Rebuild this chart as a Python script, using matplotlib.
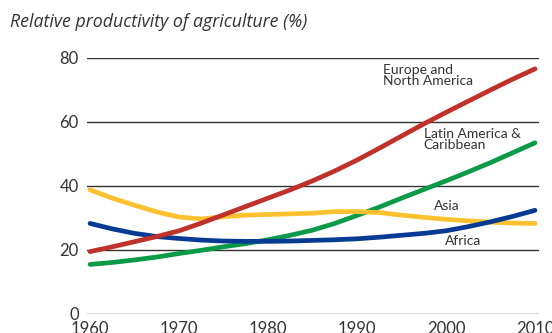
import matplotlib
matplotlib.use("Agg")
import matplotlib.pyplot as plt

plt.rcParams['font.family'] = ['Lato', 'DejaVu Sans']

years = [1960, 1962.5, 1965, 1967.5, 1970, 1972.5, 1975, 1977.5, 1980, 1982.5,
         1985, 1987.5, 1990, 1992.5, 1995, 1997.5, 2000, 2002.5, 2005, 2007.5, 2010]

europe_na = [19.5, 21.0, 22.6, 24.2, 26.0, 28.4, 31.0, 33.6, 36.2, 38.8,
             41.6, 44.7, 48.1, 51.8, 55.6, 59.4, 63.0, 66.5, 70.0, 73.4, 76.6]
latin_am = [15.5, 16.1, 16.9, 17.8, 18.9, 19.9, 21.0, 22.0, 23.2, 24.6,
            26.2, 28.3, 30.8, 33.4, 36.2, 38.9, 41.6, 44.4, 47.3, 50.4, 53.5]
asia = [38.8, 36.2, 34.0, 31.9, 30.3, 29.7, 30.4, 30.9, 31.1, 31.3,
        31.5, 32.0, 32.0, 31.7, 30.9, 30.2, 29.6, 29.1, 28.7, 28.4, 28.3]
africa = [28.3, 26.6, 25.2, 24.2, 23.6, 23.1, 22.8, 22.7, 22.7, 22.8,
          23.0, 23.2, 23.5, 24.0, 24.6, 25.2, 26.0, 27.3, 28.8, 30.5, 32.4]

yticks = [0, 20, 40, 60, 80]
xticks = [1960, 1970, 1980, 1990, 2000, 2010]

fig = plt.figure(figsize=(5.52, 3.33), dpi=100)
ax = fig.add_axes([87 / 552, 19 / 333, 452 / 552, 256 / 333])

lw = 3.4
ax.plot(years, latin_am, color='#0b9a47', lw=lw, solid_capstyle='round', zorder=3)
ax.plot(years, asia, color='#fdc02f', lw=lw, solid_capstyle='round', zorder=4)
ax.plot(years, africa, color='#063a93', lw=lw, solid_capstyle='round', zorder=5)
ax.plot(years, europe_na, color='#c1312b', lw=lw, solid_capstyle='round', zorder=6)

ax.set_xlim(1959.66, 2010.45)
ax.set_ylim(0, 80)
ax.set_yticks(yticks)
ax.set_xticks(xticks)
ax.grid(axis='y', color='#333333', lw=1.0, zorder=1)
ax.set_axisbelow(True)
for s in ax.spines.values():
    s.set_visible(False)
ax.tick_params(axis='both', length=0, labelsize=12, labelcolor='#333333')
ax.tick_params(axis='y', pad=6)
ax.tick_params(axis='x', pad=5)

txt = dict(fontsize=10, color='#333333', zorder=7)
ax.text(1992.9, 78.2, 'Europe and\nNorth America', ha='left', va='top',
        linespacing=0.95, **txt)
ax.text(1997.5, 58.2, 'Latin America &\nCaribbean', ha='left', va='top',
        linespacing=0.95, **txt)
ax.text(2000.1, 33.7, 'Asia', ha='center', va='center', **txt)
ax.text(2001.9, 22.8, 'Africa', ha='center', va='center', **txt)

fig.text(10 / 552, 1 - 22 / 333, 'Relative productivity of agriculture (%)',
         fontsize=12.8, style='italic', color='#333333', ha='left', va='center',
         family=['Open Sans', 'DejaVu Sans'])

fig.savefig('out.png', dpi=100)
